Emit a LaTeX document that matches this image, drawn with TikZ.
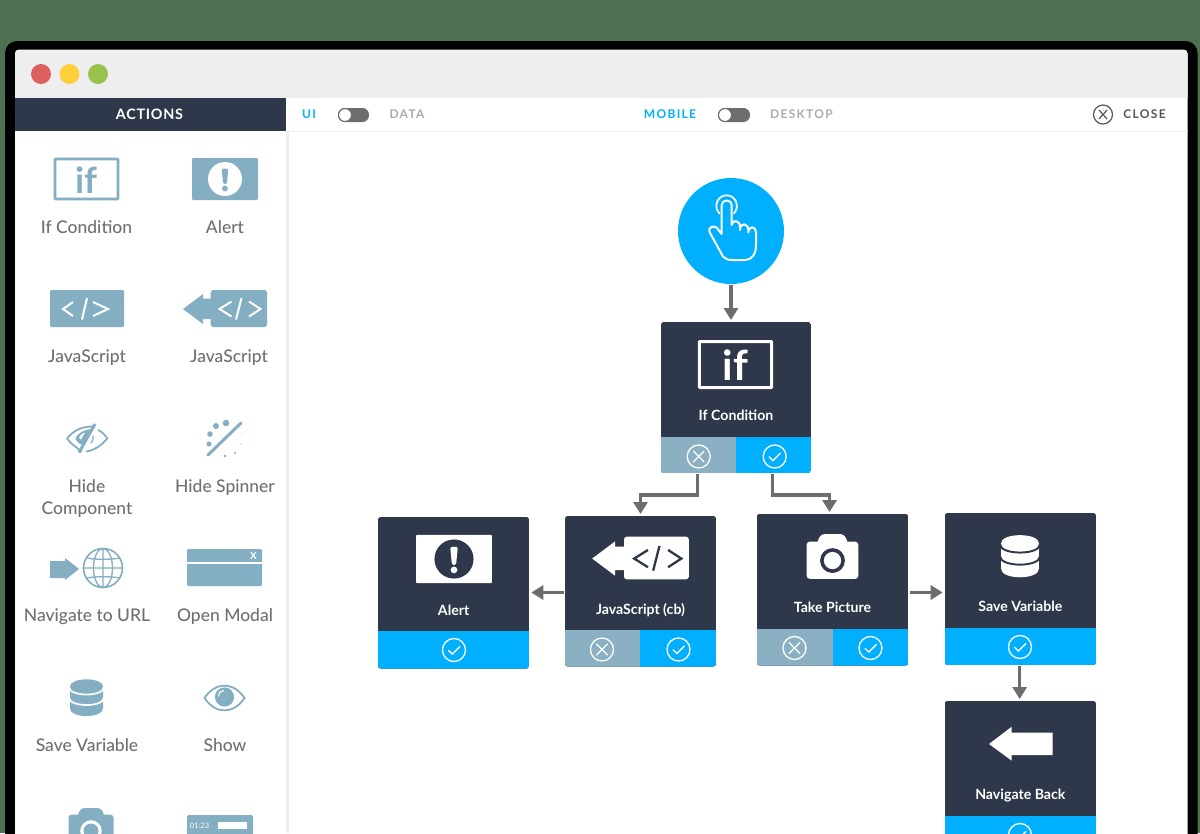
\documentclass[tikz,border=0pt]{standalone}
\usepackage{fontspec}
\setmainfont{Lato}
\newfontfamily\medfont{Lato Medium}
\usetikzlibrary{arrows.meta,calc}
\definecolor{bggreen}{HTML}{4D7050}
\definecolor{navy}{HTML}{2E384A}
\definecolor{skyblue}{HTML}{00B0FF}
\definecolor{iconblue}{HTML}{84AEC2}
\definecolor{failblue}{HTML}{8BB0C3}
\definecolor{titlegray}{HTML}{EEEEEE}
\definecolor{labelgray}{HTML}{707070}
\definecolor{linkgray}{HTML}{6D6D6D}
\definecolor{dimgray}{HTML}{ABABAB}
\definecolor{closegray}{HTML}{565656}
\definecolor{fg}{HTML}{84AEC2}
\definecolor{bg}{HTML}{FFFFFF}
\definecolor{lightred}{HTML}{DC5F5F}
\definecolor{lightyellow}{HTML}{FFCE3B}
\definecolor{lightgreen}{HTML}{98C14D}
\tikzset{
  icw/.style={line width=#1*\iconscale*0.75pt},
  conn/.style={draw=linkgray,line width=2.5pt,-{Triangle[length=9pt,width=10.5pt]},shorten >=1.5pt,shorten <=1pt,line join=miter},
  sidelabel/.style={text=labelgray,font=\medfont\fontsize{13.1pt}{15pt}\selectfont,inner sep=0pt,align=center},
  sidebase/.style={sidelabel,anchor=base},
  boxlabel/.style={text=white,anchor=base,font=\fontsize{10.6pt}{12pt}\selectfont\bfseries,inner sep=0pt},
  topword/.style={inner sep=0pt,font=\fontsize{9pt}{10pt}\selectfont\bfseries\addfontfeature{LetterSpace=11}},
  bodyfill/.style={fill=navy},
  yesfill/.style={fill=skyblue},
  nofill/.style={fill=failblue},
  markline/.style={draw=white,line width=1pt,line cap=round,line join=round},
}
\newcommand{\PxBox}[6]{%
  \pgfmathsetmacro\pw{(#5-#3)*0.75}\pgfmathsetmacro\ph{(#6-#4)*0.75}%
  \node[#1,rectangle,inner sep=0pt,outer sep=0pt,minimum width=\pw pt,minimum height=\ph pt,anchor=north west] (#2) at (#3,#4) {};}
\newcommand{\CheckMark}[2]{\draw[markline] (#1,#2) circle[radius=11.5];
  \draw[markline] ($(#1,#2)+(-5.5,0.3)$) -- ++(3.8,3.8) -- ++(7.5,-7.6);}
\newcommand{\CrossMark}[2]{\draw[markline] (#1,#2) circle[radius=11.5];
  \draw[markline] ($(#1,#2)+(-5.3,-5.3)$) -- ++(10.6,10.6);
  \draw[markline] ($(#1,#2)+(5.3,-5.3)$) -- ++(-10.6,10.6);}
% name x1 y1 x2 y2 footerY label labelY
\newcommand{\FlowOne}[8]{%
  \begin{scope}\clip[rounded corners=2pt] (#2,#3) rectangle (#4,#5);
    \PxBox{bodyfill}{#1}{#2}{#3}{#4}{#5}
    \PxBox{yesfill}{#1-yes}{#2}{#6}{#4}{#5}
  \end{scope}
  \pgfmathsetmacro\lx{(#2+#4)/2}
  \node[boxlabel] (#1-label) at (\lx,#8) {#7};}
% name x1 y1 x2 y2 footerY split label labelY
\newcommand{\FlowTwo}[9]{%
  \begin{scope}\clip[rounded corners=2pt] (#2,#3) rectangle (#4,#5);
    \PxBox{bodyfill}{#1}{#2}{#3}{#4}{#5}
    \PxBox{nofill}{#1-no}{#2}{#6}{#7}{#5}
    \PxBox{yesfill}{#1-yes}{#7}{#6}{#4}{#5}
  \end{scope}
  \pgfmathsetmacro\lx{(#2+#4)/2}
  \node[boxlabel] (#1-label) at (\lx,#9) {#8};}
\newcounter{iconctr}
\newcommand{\sideicon}{\colorlet{fg}{iconblue}\colorlet{bg}{white}}
\newcommand{\bigicon}{\colorlet{fg}{white}\colorlet{bg}{navy}}
\newcommand{\PlaceIcon}[5]{\stepcounter{iconctr}%
  \begin{scope}[shift={(#1,#2)},scale=#3,name prefix=icon\theiconctr-]\def\iconscale{#3}#4#5\end{scope}}
\newcommand{\IconIf}{%
  \draw[draw=fg,icw=2.6,rounded corners=0.5pt] (-31.5,-20) rectangle (31.5,20);
  \node[transform shape,anchor=base,text=fg,inner sep=0pt,font=\fontsize{27pt}{28pt}\selectfont\bfseries] (glyph) at (0,14) {if};}
\newcommand{\IconAlert}{%
  \fill[fg,rounded corners=0.8pt] (-33,-21) rectangle (33,21);
  \fill[bg] (0,0) circle[radius=17];
  \fill[fg,rounded corners=1pt] (-3.3,-10.5) -- (3.3,-10.5) -- (1.8,5) -- (-1.8,5) -- cycle;
  \fill[fg] (0,9.5) circle[radius=2.9];}
\newcommand{\IconCode}{%
  \fill[fg,rounded corners=0.8pt] (-37,-18.5) rectangle (37,18.5);
  \draw[bg,icw=2,line join=miter] (-14,-6.5) -- (-24,0.5) -- (-14,7.5);
  \draw[bg,icw=2] (0,-10.5) -- (-5,11);
  \draw[bg,icw=2,line join=miter] (6,-6.5) -- (21,0.5) -- (6,7.5);}
\newcommand{\IconCodeBack}{%
  \fill[fg] (-42,0.5) -- (-22,-14.5) -- (-22,-10) -- (-14,-10) -- (-14,10.5) -- (-22,10.5) -- (-22,15.5) -- cycle;
  \fill[fg,rounded corners=2pt] (-14.3,-18.5) rectangle (42,18.5);
  \draw[bg,icw=2,line join=miter] (6.5,-7) -- (-5.5,0.5) -- (6.5,8);
  \draw[bg,icw=2] (16.5,-10.5) -- (11,11);
  \draw[bg,icw=2,line join=miter] (24,-7) -- (35.5,0.5) -- (24,8);}
\newcommand{\IconHide}{%
  \draw[fg,icw=1.8,line join=round] (-5,12.5) .. controls (-10,9) and (-16,5) .. (-20,-0.5) .. controls (-13,-9) and (-5,-12.5) .. (6,-12.5);
  \fill[fg] (-11.5,-1) .. controls (-9,-6) and (-3,-9.5) .. (5,-10) -- (-4,6) .. controls (-8,5) and (-11,2) .. (-11.5,-1);
  \fill[white] (-8,-1.5) .. controls (-7,-4) and (-4.5,-6) .. (-2,-6.5) -- (-6,0.5) -- cycle;
  \draw[fg,icw=3] (8,-15) -- (-8,13.5);
  \draw[fg,icw=1.8,line cap=round] (-0.5,12.5) .. controls (8,11) and (15,6) .. (20.3,-0.7) .. controls (18,-4) and (15,-7) .. (11.5,-9);
  \draw[fg,icw=1.2,line cap=round] (6,-3) .. controls (7,-1) and (6,2) .. (4,4);}
\newcommand{\IconSpinner}{%
  \draw[fg,icw=3,line cap=round] (16,-16) -- (-17,16);
  \fill[fg] (1,-16) circle[radius=3.3] (-9,-13) circle[radius=3] (-15,-5) circle[radius=2.8]
    (-16,5) circle[radius=2.5] (0,17) circle[radius=1.4] (10,14) circle[radius=1.1]
    (16,5) circle[radius=0.7] (17,-5) circle[radius=0.5];}
\newcommand{\IconURL}{%
  \fill[fg] (-36.5,-8) -- (-21.5,-8) -- (-21.5,-11) -- (-7.5,0) -- (-21.5,11) -- (-21.5,9) -- (-36.5,9) -- cycle;
  \begin{scope}[shift={(16.5,-1)}]
    \draw[fg,icw=1.6] (0,0) circle[radius=19.5];
    \draw[fg,icw=1.3] (0,0) ellipse[x radius=9.5,y radius=19.5];
    \draw[fg,icw=1.3] (0,-19.5) -- (0,19.5) (-19.5,0) -- (19.5,0)
      (-16.8,-10) .. controls (-8,-8.3) and (8,-8.3) .. (16.8,-10)
      (-16.8,10) .. controls (-8,8.3) and (8,8.3) .. (16.8,10);
  \end{scope}}
\newcommand{\IconModal}{%
  \fill[fg,rounded corners=1pt] (-37.5,-18.5) rectangle (37.5,18.5);
  \draw[bg,icw=1.5] (-37.5,-4.5) -- (37.5,-4.5);
  \node[text=bg,inner sep=0pt,font=\fontsize{7.5pt}{9pt}\selectfont\bfseries] (closex) at (29,-11.5) {X};}
\newcommand{\IconBase}{%
  \fill[fg] (-16.5,-11) .. controls (-16.5,-20.5) and (16.5,-20.5) .. (16.5,-11) -- (16.5,11)
    .. controls (16.5,21) and (-16.5,21) .. (-16.5,11) -- cycle;
  \draw[bg,icw=1.7] (-17.5,-10.5) .. controls (-17.5,-0.5) and (17.5,-0.5) .. (17.5,-10.5);
  \draw[bg,icw=1.7] (-17.5,0) .. controls (-17.5,10) and (17.5,10) .. (17.5,0);}
\newcommand{\IconShow}{%
  \draw[fg,icw=1.8] (-20,0) .. controls (-9,-16.5) and (9,-16.5) .. (20,0) .. controls (9,16.5) and (-9,16.5) .. cycle;
  \fill[fg] (0,-1) circle[radius=9.6];
  \draw[bg,icw=1.1,line cap=round] (-6,-2) .. controls (-6,-5) and (-4,-7) .. (-1,-7.5);}
\newcommand{\IconCamera}{%
  \fill[fg,rounded corners=2.5pt] (-22.5,-13) rectangle (22.5,19.5);
  \fill[fg,rounded corners=2.5pt] (-14,-11) -- (-10,-19.5) -- (10,-19.5) -- (14,-11) -- cycle;
  \fill[bg] (0,3.5) circle[radius=10.8];
  \fill[fg] (0,3.5) circle[radius=7.5];}
\newcommand{\IconTimer}{%
  \fill[fg,rounded corners=1pt] (-33,-18.5) rectangle (33,18.5);
  \node[text=bg,inner sep=0pt,font=\fontsize{5.6pt}{7pt}\selectfont] (clock) at (-20.5,-8) {01:23};
  \fill[bg] (-2,-12) rectangle (27,-5);}
\begin{document}
\begin{tikzpicture}[x=0.75pt,y=-0.75pt]
\clip (0,0) rectangle (1200,833);
\fill[bggreen] (0,0) rectangle (1200,833);
% frame
\fill[black,rounded corners=9pt] (5,41) rectangle (1197.5,900);
\fill[white,rounded corners=3pt] (15,49.5) rectangle (1187.5,900);
\begin{scope}\clip[rounded corners=3pt] (15,49.5) rectangle (1187.5,900);
\PxBox{fill=titlegray}{titlebar}{15}{49.5}{1187.5}{97.5}
\end{scope}
\fill[titlegray] (286,130.5) rectangle (1187.5,132);
\fill[titlegray] (286,131) rectangle (288.5,833);
\PxBox{fill=navy}{sidehead}{15}{98}{286}{131}
\node[topword,text=white,font=\fontsize{10.8pt}{12pt}\selectfont\bfseries\addfontfeature{LetterSpace=5}] (actions) at (149.5,114.5) {ACTIONS};
% traffic lights
\fill[lightred] (41,74) circle[radius=10];
\fill[lightyellow] (69.5,74) circle[radius=10];
\fill[lightgreen] (98,74) circle[radius=10];
% toolbar
\node[topword,text=skyblue] (ui) at (309,114.5) {UI};
\fill[linkgray,rounded corners=5pt] (338,108) rectangle (369,122);
\draw[fill=white,draw=linkgray,line width=0.8pt] (345,115) circle[radius=6.5];
\node[topword,text=dimgray] (data) at (407,114.5) {DATA};
\node[topword,text=skyblue] (mobile) at (670,114.5) {MOBILE};
\fill[linkgray,rounded corners=5pt] (718,108) rectangle (750,122);
\draw[fill=white,draw=linkgray,line width=0.8pt] (725,115) circle[radius=6.5];
\node[topword,text=dimgray] (desktop) at (801.5,114.5) {DESKTOP};
\draw[closegray,line width=0.9pt] (1103,114.5) circle[radius=9.5];
\draw[closegray,line width=0.9pt] (1099,110) -- (1107,119) (1107,110) -- (1099,119);
\node[topword,text=closegray] (closeword) at (1144.5,114.5) {CLOSE};
% sidebar icons
\PlaceIcon{86.5}{179}{1}{\sideicon}{\IconIf}
\PlaceIcon{225}{179}{1}{\sideicon}{\IconAlert}
\PlaceIcon{87}{308.5}{1}{\sideicon}{\IconCode}
\PlaceIcon{225}{308.5}{1}{\sideicon}{\IconCodeBack}
\PlaceIcon{87}{439}{1}{\sideicon}{\IconHide}
\PlaceIcon{225}{439}{1}{\sideicon}{\IconSpinner}
\PlaceIcon{86.5}{569}{1}{\sideicon}{\IconURL}
\PlaceIcon{224.5}{567.5}{1}{\sideicon}{\IconModal}
\PlaceIcon{86.5}{697.5}{1}{\sideicon}{\IconBase}
\PlaceIcon{224.5}{698}{1}{\sideicon}{\IconShow}
\PlaceIcon{91}{827.5}{1}{\sideicon}{\IconCamera}
\PlaceIcon{220}{833.5}{1}{\sideicon}{\IconTimer}
% sidebar labels
\node[sidebase] (l1) at (86.5,233) {If Condition};
\node[sidebase] (l2) at (225,233) {Alert};
\node[sidebase] (l3) at (87,362.5) {JavaScript};
\node[sidebase] (l4) at (229,362.5) {JavaScript};
\node[sidelabel,text width=100pt] (l5) at (87,498.5) {Hide\\[0.8pt]Component};
\node[sidebase] (l6) at (225,492) {Hide Spinner};
\node[sidebase] (l7) at (87,621.5) {Navigate to URL};
\node[sidebase] (l8) at (225,621.5) {Open Modal};
\node[sidebase] (l9) at (87,751) {Save Variable};
\node[sidebase] (l10) at (225,751) {Show};
% trigger
\node[circle,fill=skyblue,inner sep=0pt,outer sep=0pt,minimum size=79.5pt] (trigger) at (731,231) {};
\begin{scope}[shift={(731,231)}]
\draw[white,line width=1.5pt,line join=round,line cap=round]
 (-9.3,3) -- (-9.3,-26) .. controls (-9.3,-32) and (0.7,-32) .. (0.7,-26) -- (0.7,-6)
 .. controls (1,-11.5) and (9,-11.5) .. (9,-4) -- (9,-1)
 .. controls (9,-9) and (17.3,-8) .. (17.3,-1) -- (17.3,1.5)
 .. controls (17.3,-5.5) and (25,-5) .. (25,1) -- (25,14)
 .. controls (25,23) and (21,29) .. (14,29) -- (1,29)
 .. controls (-3,29) and (-6,28) .. (-8,25.5) -- (-21.5,1)
 .. controls (-23,-3.5) and (-18,-6) .. (-14.5,-3.5) -- (-9.3,3);
\draw[white,line width=1.3pt,line cap=round] (-11.5,-17.5) .. controls (-18,-24) and (-14,-35.7) .. (-4.3,-35.7) .. controls (5,-35.7) and (9,-24) .. (3,-17.5);
\end{scope}
% flow boxes
\FlowTwo{ifb}{661}{322}{811}{473}{436.5}{736}{If Condition}{420}
\PlaceIcon{735.5}{364.5}{1.15}{\bigicon}{\IconIf}
\CrossMark{698.7}{456.5}\CheckMark{774.7}{456.5}
\FlowOne{alertb}{378}{517}{529.3}{668.5}{631}{Alert}{615}
\PlaceIcon{454}{559}{1.15}{\bigicon}{\IconAlert}
\CheckMark{454}{650}
\FlowTwo{jsb}{565}{516}{716}{666.5}{630}{640}{JavaScript (cb)}{614}
\PlaceIcon{640.5}{558}{1.15}{\bigicon}{\IconCodeBack}
\CrossMark{602}{649.5}\CheckMark{678.5}{649.5}
\FlowTwo{takeb}{756.7}{514}{908.3}{665.5}{629}{832.7}{Take Picture}{612.7}
\PlaceIcon{832.5}{556.5}{1.15}{\bigicon}{\IconCamera}
\CrossMark{794.5}{648}\CheckMark{870.5}{648}
\FlowOne{saveb}{944.7}{513}{1096}{665}{628}{Save Variable}{611.7}
\PlaceIcon{1020}{556}{1.15}{\bigicon}{\IconBase}
\CheckMark{1020}{647}
\FlowOne{navb}{944.7}{701}{1096}{852}{816}{Navigate Back}{799.3}
\fill[white] (989,744) -- (1011.7,726.7) -- (1011.7,732.7) -- (1052.7,732.7) -- (1052.7,755) -- (1011.7,755) -- (1011.7,760.7) -- cycle;
\CheckMark{1020}{835}
% connectors
\coordinate (bus) at (700,495);
\draw[conn] (trigger.south) -- (trigger.south |- ifb.north);
\draw[conn] ([xshift=-1pt]ifb-no.south) -- ([xshift=-1pt]ifb-no.south |- bus) -- (jsb.north |- bus) -- (jsb.north);
\draw[conn] ([xshift=-1pt]ifb-yes.south) -- ([xshift=-1pt]ifb-yes.south |- bus) -- ([xshift=-2.2pt]takeb.north |- bus) -- ([xshift=-2.2pt]takeb.north);
\coordinate (midrow) at (700,592.5);
\draw[conn] (jsb.west |- midrow) -- (alertb.east |- midrow);
\draw[conn] (takeb.east |- midrow) -- (saveb.west |- midrow);
\draw[conn] ([xshift=-0.5pt]saveb-yes.south) -- ([xshift=-0.5pt]navb.north);
\end{tikzpicture}
\end{document}
